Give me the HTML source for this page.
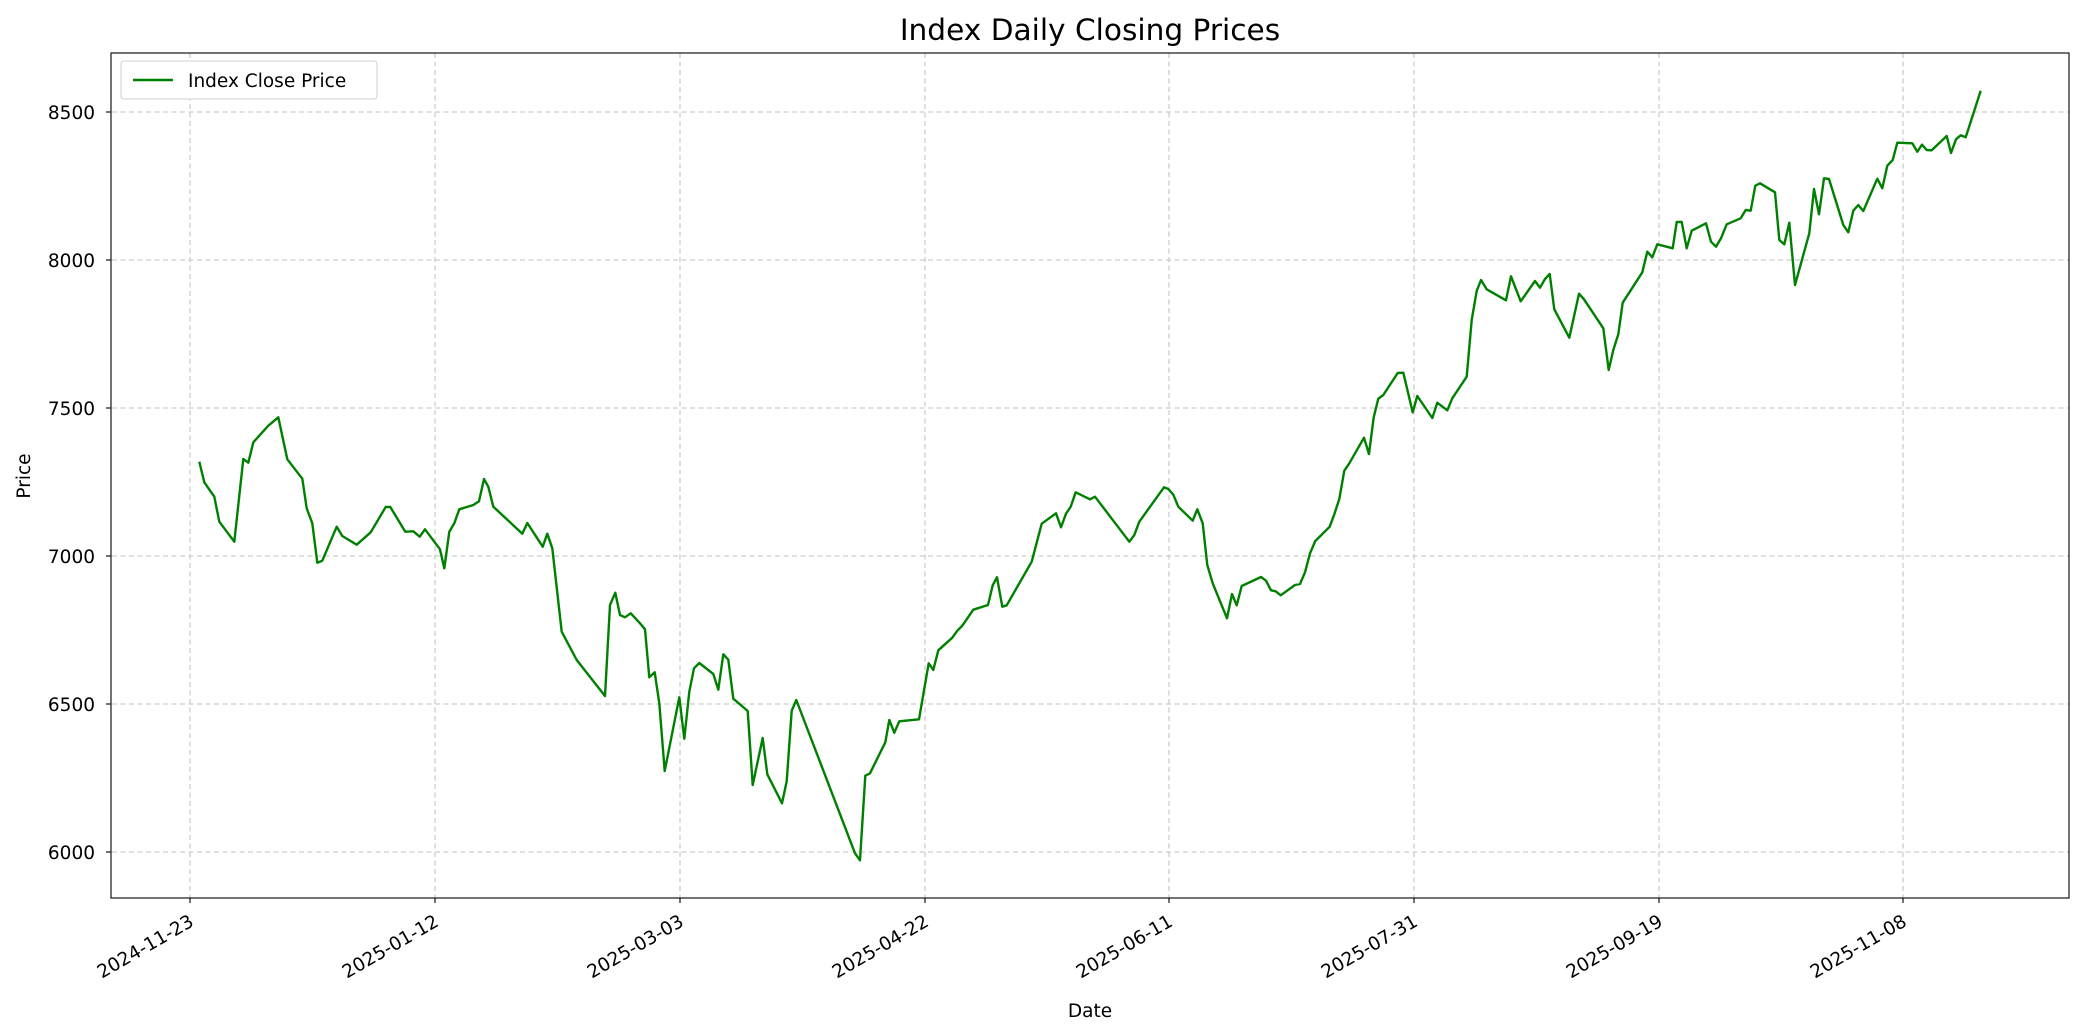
<!DOCTYPE html>
<html><head><meta charset="utf-8"><style>html,body{margin:0;padding:0;background:#fff}svg{display:block}</style></head>
<body>
<svg width="2084" height="1035" viewBox="0 0 2084 1035" xmlns="http://www.w3.org/2000/svg" font-family="'DejaVu Sans','Liberation Sans',sans-serif">
<rect width="2084" height="1035" fill="#fff"/>
<g stroke="#cccccc" stroke-width="1.3" stroke-dasharray="5,3.5">
<line x1="112" x2="2069" y1="112" y2="112"/><line x1="112" x2="2069" y1="260" y2="260"/><line x1="112" x2="2069" y1="408" y2="408"/><line x1="112" x2="2069" y1="556" y2="556"/><line x1="112" x2="2069" y1="704" y2="704"/><line x1="112" x2="2069" y1="852" y2="852"/>
<line y1="53" y2="898" x1="190" x2="190"/><line y1="53" y2="898" x1="435" x2="435"/><line y1="53" y2="898" x1="680" x2="680"/><line y1="53" y2="898" x1="925" x2="925"/><line y1="53" y2="898" x1="1169" x2="1169"/><line y1="53" y2="898" x1="1414" x2="1414"/><line y1="53" y2="898" x1="1659" x2="1659"/><line y1="53" y2="898" x1="1903" x2="1903"/>
</g>
<polyline fill="none" stroke="#008000" stroke-width="2.4" stroke-linejoin="round" points="199.3,461.7 204.3,482.3 214.3,496.7 219.3,521.7 234.3,541.7 243.3,459 248.3,462.7 253.3,442.3 268.3,425.7 278.3,417.3 287.3,459.3 302.3,478.7 306.7,508.3 312.3,523.3 317.3,562.7 322.3,560.7 336.7,526.7 342.3,536 356.7,544.7 370.7,532.3 385.7,507 390.3,507 405.3,531.7 413.3,531.3 419.7,536.7 425,529.3 440,549.3 444.3,568.3 449.3,531.7 454.3,523.3 459.3,509.3 473.3,505 479,501.3 484,479 488.3,486.7 493.3,506.7 522.3,533.7 527.3,523 542.7,546.7 547.3,533.7 552.3,548.3 561.7,631.7 576.7,660 605,696 610,605 615.3,592.7 620,615 625,617.3 630.7,613.3 640,623.3 645,629.3 649.3,677.3 654.7,672.3 659.3,703.3 664.7,771 679.3,697.3 684.3,738.7 689.3,691.7 694,668.3 699.3,663 713.3,674 718.3,689.7 723.3,654.3 728.3,659.7 733.3,698.7 747.7,711 752.7,785 762.7,738 767.3,774.3 782,803.3 786.7,781.3 791.7,710.7 796.3,700 855,853.3 860,860.3 865.3,775.7 870,773.3 885.3,742.3 889.3,720 894.3,732.7 899.3,721.3 919,719.3 928.7,663.3 933.3,670 938.3,650.3 952.3,637.7 957.3,630.7 962.3,625.7 973.3,609.7 988,605 992.7,585.3 997,577.3 1002.3,606.7 1006.7,605.3 1031.7,561.7 1041.7,523.7 1056,513.3 1061,527.3 1066,513.7 1070.7,506.7 1075.7,492.3 1090,499.3 1095,496.7 1129.3,541.7 1134.3,535 1139.3,521.7 1164,487.3 1168.3,489 1173.3,494.7 1178.3,506.7 1192.7,520.7 1197.3,509.3 1202.7,523.3 1207.3,565 1212.7,583.3 1227,618.3 1232,594 1236.7,605.3 1241.7,586 1261,577 1266,580.7 1271,590.3 1275.7,591.3 1280.7,595.3 1295,585 1300,584 1305,572.3 1310,553.3 1315.3,541 1329.7,526.7 1334.3,514.3 1339.3,499 1344.3,470.7 1349.3,463.3 1364,437.7 1369,454 1373.7,417.3 1378.3,398.7 1383.3,395 1397.7,373 1403.3,372.7 1412.7,412.3 1417.3,396 1432.3,418 1437.3,402.7 1447.3,410.3 1452.3,398.3 1466.7,376.7 1471.7,320 1476.7,291 1481,280 1486.7,289.3 1506,300.3 1511,276.3 1520.7,301.3 1535,281 1540,287.7 1545,279 1549.7,274 1554.3,309.3 1569.3,337.7 1579,293.7 1584,299.3 1603.3,328.3 1608.7,370 1613.3,350 1618.3,334.3 1622.7,302.7 1642.3,272.3 1647.3,251.7 1652.3,257.3 1657.3,244.3 1672.7,248.3 1676.7,222 1681.7,222 1686.7,248.3 1691.7,230.7 1706,223.3 1711,241.7 1716,246.7 1721,238.3 1726.7,224.3 1740.7,218.3 1745.7,210 1750.7,210.7 1755.3,185.7 1760,183.3 1775,192.3 1779.3,240 1784.3,244.3 1789.3,222.7 1795,285 1809.3,233.3 1814,189 1819,214.3 1824,178.3 1829,179 1843.3,225 1848.3,232.3 1853.3,210.7 1858.3,205 1863.3,211 1877.3,178.7 1882.3,188.3 1887.3,165.7 1892.7,160 1897.3,142.7 1912.3,143.3 1917.3,151.7 1922,144.7 1926.7,150 1931.7,150.3 1946.7,136 1951,153 1956,139.3 1960.7,135.3 1965.7,137.3 1980.7,90.7"/>
<rect x="111" y="53" width="1958" height="845" fill="none" stroke="#000" stroke-width="1.1"/>
<g stroke="#000" stroke-width="1.1">
<line x1="106" x2="111" y1="112" y2="112"/><line x1="106" x2="111" y1="260" y2="260"/><line x1="106" x2="111" y1="408" y2="408"/><line x1="106" x2="111" y1="556" y2="556"/><line x1="106" x2="111" y1="704" y2="704"/><line x1="106" x2="111" y1="852" y2="852"/>
<line y1="898" y2="903" x1="190" x2="190"/><line y1="898" y2="903" x1="435" x2="435"/><line y1="898" y2="903" x1="680" x2="680"/><line y1="898" y2="903" x1="925" x2="925"/><line y1="898" y2="903" x1="1169" x2="1169"/><line y1="898" y2="903" x1="1414" x2="1414"/><line y1="898" y2="903" x1="1659" x2="1659"/><line y1="898" y2="903" x1="1903" x2="1903"/>
</g>
<g font-size="18.5" fill="#000" text-anchor="end">
<text x="95" y="119">8500</text><text x="95" y="267">8000</text><text x="95" y="415">7500</text><text x="95" y="563">7000</text><text x="95" y="711">6500</text><text x="95" y="859">6000</text>
<text transform="translate(195,925) rotate(-30)">2024-11-23</text>
<text transform="translate(440,925) rotate(-30)">2025-01-12</text>
<text transform="translate(685,925) rotate(-30)">2025-03-03</text>
<text transform="translate(930,925) rotate(-30)">2025-04-22</text>
<text transform="translate(1174,925) rotate(-30)">2025-06-11</text>
<text transform="translate(1419,925) rotate(-30)">2025-07-31</text>
<text transform="translate(1664,925) rotate(-30)">2025-09-19</text>
<text transform="translate(1908,925) rotate(-30)">2025-11-08</text>
</g>
<text x="1090" y="1017" font-size="18.5" text-anchor="middle">Date</text>
<text transform="translate(30,476) rotate(-90)" font-size="18.5" text-anchor="middle">Price</text>
<text x="1090" y="40" font-size="29.6" text-anchor="middle">Index Daily Closing Prices</text>
<rect x="121" y="61" width="256" height="38" rx="3" fill="#fff" stroke="#d0d0d0" stroke-width="1.1"/>
<line x1="133" x2="173" y1="80" y2="80" stroke="#008000" stroke-width="2.4"/>
<text x="188" y="87" font-size="18.5">Index Close Price</text>
</svg>
</body></html>
